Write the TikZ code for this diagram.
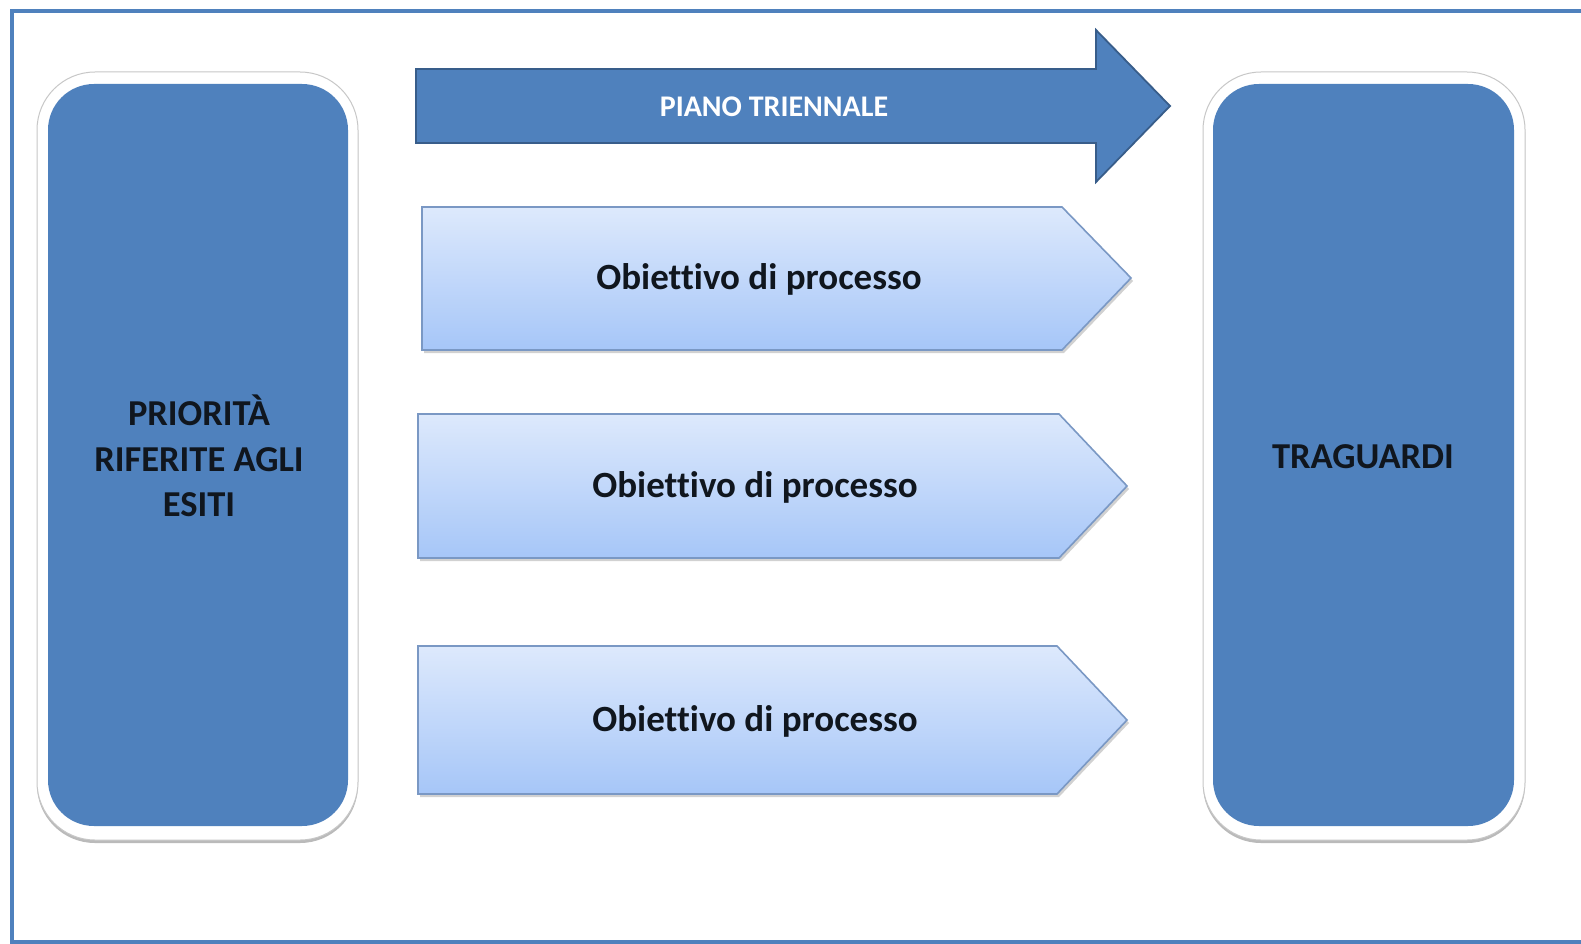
\documentclass[tikz,border=0pt]{standalone}
\usepackage{fontspec}
\setmainfont[Ligatures={NoCommon}]{Carlito}
\usetikzlibrary{shadows}
\definecolor{boxblue}{RGB}{79,129,189}
\definecolor{boxedge}{RGB}{56,93,138}
\definecolor{lighttop}{RGB}{221,233,252}
\definecolor{lightbot}{RGB}{166,198,248}
\definecolor{lightedge}{RGB}{122,152,196}
\definecolor{txt}{RGB}{16,22,30}
\tikzset{
  outerbox/.style={fill=white, draw=black!22, line width=1pt, rounded corners=58pt,
    drop shadow={shadow xshift=0pt, shadow yshift=-3pt, fill=black!45, opacity=0.6}},
  innerbox/.style={fill=boxblue, rounded corners=46pt},
  objarrow/.style={top color=lighttop, bottom color=lightbot, draw=lightedge, line width=1.6pt,
    drop shadow={shadow xshift=2pt, shadow yshift=-3pt, fill=black!40, opacity=0.45}},
  bigarrow/.style={fill=boxblue, draw=boxedge, line width=1.8pt},
  sidetext/.style={font=\bfseries\fontsize{36.5}{45.5}\selectfont, text=txt, align=center},
  objtext/.style={font=\bfseries\fontsize{37}{40}\selectfont, text=txt},
  pianotext/.style={font=\bfseries\fontsize{30}{34}\selectfont, text=white}
}
\begin{document}
\begin{tikzpicture}[x=1pt,y=-1pt]
\useasboundingbox (0,0) rectangle (1581,944);
\fill[white] (0,0) rectangle (1581,944);
% frame
\draw[boxblue, line width=4pt] (1590,11) -- (12,11) -- (12,942) -- (1590,942);
% left box
\draw[outerbox] (37,72) rectangle (358,840);
\fill[innerbox] (48,84) rectangle (348,826);
\node[sidetext] (prio) at (199,456) {PRIORITÀ\\RIFERITE AGLI\\ESITI};
% right box
\draw[outerbox] (1203,72) rectangle (1525,840);
\fill[innerbox] (1213,84) rectangle (1514,826);
\node[sidetext] (trag) at (1363,457) {TRAGUARDI};
% big arrow
\draw[bigarrow] (416,69) -- (1096,69) -- (1096,30) -- (1170,106) -- (1096,182) -- (1096,143) -- (416,143) -- cycle;
\node[pianotext] (piano) at (774,107) {PIANO TRIENNALE};
% objective arrows
\draw[objarrow] (422,207) -- (1062,207) -- (1131,278) -- (1062,350) -- (422,350) -- cycle;
\node[objtext] (obj1) at (759,279) {Obiettivo di processo};
\draw[objarrow] (418,414) -- (1059,414) -- (1127,486) -- (1059,558) -- (418,558) -- cycle;
\node[objtext] (obj2) at (755,487) {Obiettivo di processo};
\draw[objarrow] (418,646) -- (1057,646) -- (1127,720) -- (1057,794) -- (418,794) -- cycle;
\node[objtext] (obj3) at (755,721) {Obiettivo di processo};
\end{tikzpicture}
\end{document}
